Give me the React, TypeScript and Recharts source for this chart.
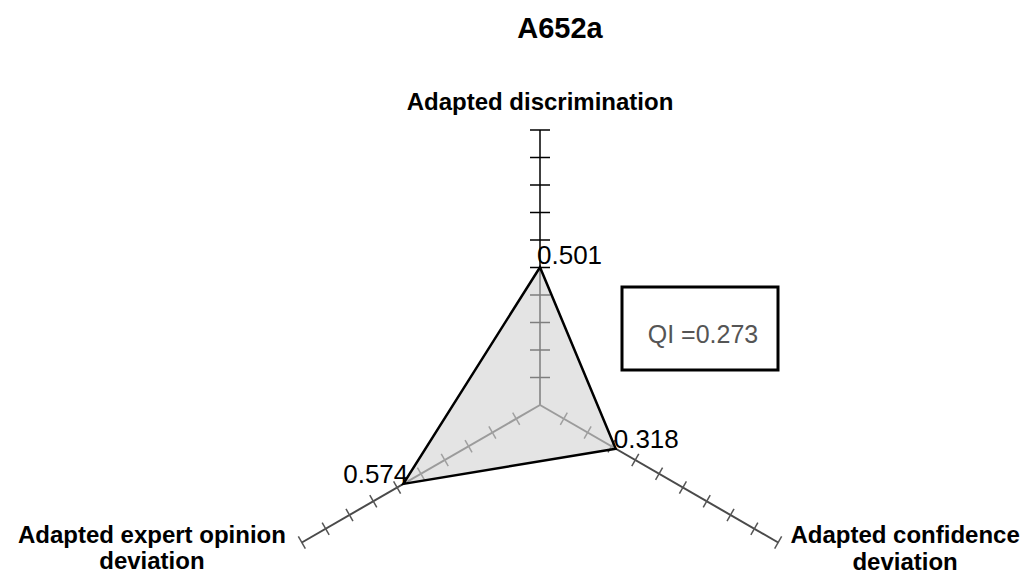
import { RadarChart, Radar, PolarAngleAxis, PolarRadiusAxis } from "recharts";

const chartTitle = "A652a";
const axisNames = [
  "Adapted discrimination",
  "Adapted confidence deviation",
  "Adapted expert opinion deviation",
];
const scores = [0.501, 0.318, 0.574];
const radiusTicks = [0, 0.1, 0.2, 0.3, 0.4, 0.5, 0.6, 0.7, 0.8, 0.9, 1.0];
const qiValue = 0.273;

const data = axisNames.map((name, i) => ({ axis: name, value: scores[i] }));

const FONT = "'Liberation Sans', Arial, sans-serif";

// short marks across each radius axis
const makeTick = (angle: number, half: number, color: string) => (props: any) => {
  const { x, y, payload } = props;
  if (!payload || payload.value === 0) return <g />;
  const rad = (angle * Math.PI) / 180;
  const px = Math.sin(rad) * half;
  const py = Math.cos(rad) * half;
  return (
    <line x1={x - px} y1={y - py} x2={x + px} y2={y + py} stroke={color} strokeWidth={1.5} />
  );
};

// axis names, wrapped like the original
const AngleTick = (props: any) => {
  const { x, y, payload } = props;
  const idx = axisNames.indexOf(payload.value);
  const style = { fontFamily: FONT, fontSize: 24, fontWeight: 700, fill: "#000" };
  if (idx === 0) {
    return (
      <text x={x} y={y - 12} textAnchor="middle" style={style}>
        {payload.value}
      </text>
    );
  }
  if (idx === 1) {
    return (
      <text x={x + 120} y={y - 4} textAnchor="middle" style={style}>
        <tspan x={x + 120}>Adapted confidence</tspan>
        <tspan x={x + 120} dy={27}>deviation</tspan>
      </text>
    );
  }
  return (
    <text x={x - 143} y={y - 4} textAnchor="middle" style={style}>
      <tspan x={x - 143}>Adapted expert opinion</tspan>
      <tspan x={x - 143} dy={26}>deviation</tspan>
    </text>
  );
};

const ValueLabel = (props: any) => {
  const { cx, cy, index, value } = props;
  const txt = Number(value).toFixed(3);
  const style = { fontFamily: FONT, fontSize: 26, fill: "#000" };
  if (index === 0) {
    return <text key="v0" x={cx - 3} y={cy - 3} style={style}>{txt}</text>;
  }
  if (index === 1) {
    return <text key="v1" x={cx - 2} y={cy - 1} style={style}>{txt}</text>;
  }
  return <text key="v2" x={cx + 5} y={cy - 1} textAnchor="end" style={style}>{txt}</text>;
};

export default function App() {
  const radarExtra: any = { zIndex: 900 };
  return (
    <div style={{ position: "relative", width: 1021, height: 567, background: "#fff" }}>
      <RadarChart
        width={1021}
        height={567}
        cx={532}
        cy={397}
        innerRadius={0}
        outerRadius={275}
        data={data}
        margin={{ top: 0, right: 0, bottom: 0, left: 0 }}
      >
        <PolarAngleAxis dataKey="axis" tick={AngleTick} axisLine={false} tickLine={false} />
        <PolarRadiusAxis
          radiusAxisId={0}
          angle={90}
          type="number"
          domain={[0, 1]}
          ticks={radiusTicks as any}
          axisLine={{ stroke: "#000", strokeWidth: 1.5 }}
          tick={makeTick(90, 10, "#000")}
        />
        <PolarRadiusAxis
          radiusAxisId={1}
          angle={-30}
          type="number"
          domain={[0, 1]}
          ticks={radiusTicks as any}
          axisLine={{ stroke: "#4a4a4a", strokeWidth: 2 }}
          tick={makeTick(-30, 7, "#555")}
        />
        <PolarRadiusAxis
          radiusAxisId={2}
          angle={210}
          type="number"
          domain={[0, 1]}
          ticks={radiusTicks as any}
          axisLine={{ stroke: "#4a4a4a", strokeWidth: 2 }}
          tick={makeTick(210, 7, "#555")}
        />
        <Radar radiusAxisId={1} dataKey="value" stroke="none" fill="none" isAnimationActive={false} />
        <Radar radiusAxisId={2} dataKey="value" stroke="none" fill="none" isAnimationActive={false} />
        <Radar
          radiusAxisId={0}
          dataKey="value"
          stroke="#000"
          strokeWidth={2.5}
          fill="#d2d2d2"
          fillOpacity={0.6}
          dot={ValueLabel}
          isAnimationActive={false}
          {...radarExtra}
        />
      </RadarChart>
      <svg
        width={1021}
        height={567}
        style={{ position: "absolute", left: 0, top: 0, pointerEvents: "none" }}
      >
        <text x={552} y={30} textAnchor="middle" style={{ fontFamily: FONT, fontSize: 29, fontWeight: 700 }}>
          {chartTitle}
        </text>
        <rect x={614} y={279} width={156} height={83} fill="none" stroke="#000" strokeWidth={3} />
        <text x={695} y={335} textAnchor="middle" style={{ fontFamily: FONT, fontSize: 25, fill: "#555" }}>
          {`QI =${qiValue.toFixed(3)}`}
        </text>
      </svg>
    </div>
  );
}
